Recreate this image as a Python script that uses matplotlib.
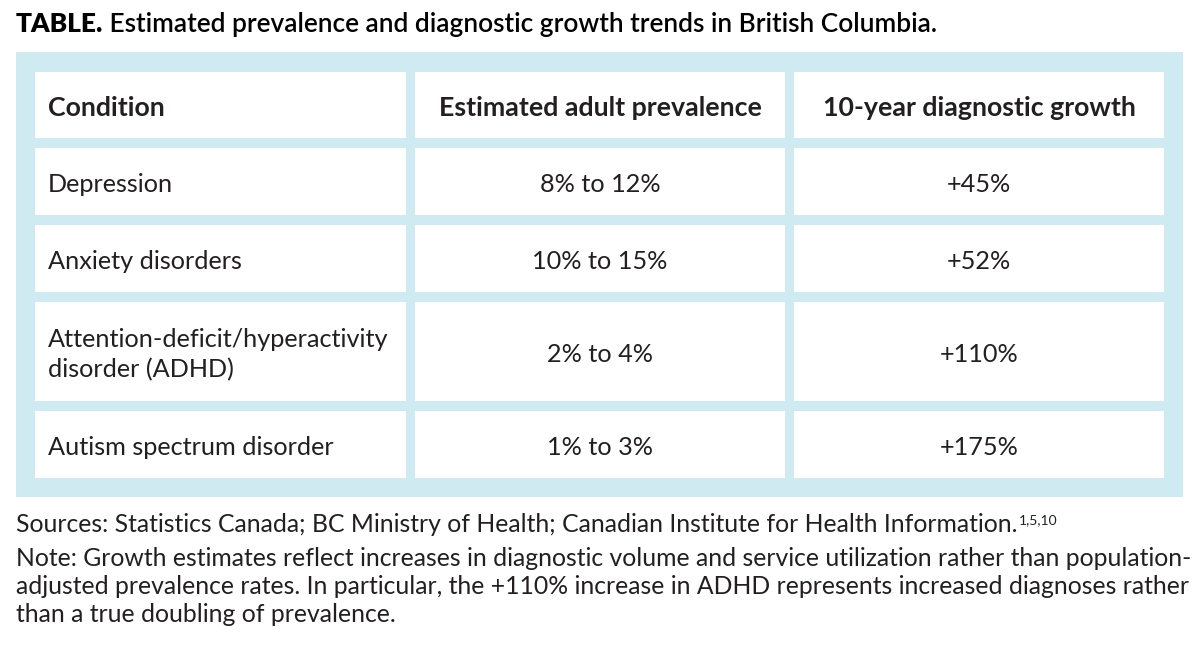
import matplotlib
matplotlib.use("Agg")
import matplotlib.pyplot as plt
from matplotlib.patches import Rectangle

# table content
headers = ["Condition", "Estimated adult prevalence", "10-year diagnostic growth"]
conditions = ["Depression", "Anxiety disorders",
              "Attention-deficit/hyperactivity\ndisorder (ADHD)", "Autism spectrum disorder"]
prevalence = ["8% to 12%", "10% to 15%", "2% to 4%", "1% to 3%"]
growth = ["+45%", "+52%", "+110%", "+175%"]

title_bold = "TABLE."
title_rest = " Estimated prevalence and diagnostic growth trends in British Columbia."
source_text = "Sources: Statistics Canada; BC Ministry of Health; Canadian Institute for Health Information."
source_refs = "1,5,10"
note_lines = [
    "Note: Growth estimates reflect increases in diagnostic volume and service utilization rather than population-",
    "adjusted prevalence rates. In particular, the +110% increase in ADHD represents increased diagnoses rather",
    "than a true doubling of prevalence.",
]

FONT = "Lato"
INK = "#231f20"
BLUE = "#cfeaf1"

fig = plt.figure(figsize=(12, 6.52), dpi=100)
ax = fig.add_axes([0, 0, 1, 1])
ax.set_xlim(0, 1200)
ax.set_ylim(652, 0)
ax.axis("off")

# layout in pixels
col_x = [(35, 406), (415, 785), (794, 1164)]
row_y = [(72, 138), (148, 215), (225, 292), (302, 401), (411, 478)]

ax.add_patch(Rectangle((16, 52), 1167, 445, facecolor=BLUE, edgecolor="none"))
for (y0, y1) in row_y:
    for (x0, x1) in col_x:
        ax.add_patch(Rectangle((x0, y0), x1 - x0, y1 - y0, facecolor="white", edgecolor="none"))

rows = [headers] + [list(r) for r in zip(conditions, prevalence, growth)]
for i, row in enumerate(rows):
    y0, y1 = row_y[i]
    yc = (y0 + y1) / 2 + 3
    w = "bold" if i == 0 else "normal"
    fs = 19.3 if i == 0 else 18.2
    for j, txt in enumerate(row):
        x0, x1 = col_x[j]
        if j == 0:
            ax.text(x0 + 13, yc, txt, ha="left", va="center", fontsize=fs,
                    family=FONT, weight=w, color=INK, linespacing=1.35)
        else:
            ax.text((x0 + x1) / 2, yc, txt, ha="center", va="center", fontsize=fs,
                    family=FONT, weight=w, color=INK)

# title
fig.canvas.draw()
r = fig.canvas.get_renderer()
t1 = ax.text(16, 32, title_bold, ha="left", va="baseline", fontsize=18.9,
             family=FONT, weight="heavy", color="black")
bb = t1.get_window_extent(r)
x_end = ax.transData.inverted().transform((bb.x1, 0))[0]
ax.text(x_end, 32, title_rest, ha="left", va="baseline", fontsize=18.9,
        family=FONT, weight="semibold", color="black")

# footnotes
fs_note = 17.8
t2 = ax.text(16, 532, source_text, ha="left", va="baseline", fontsize=fs_note,
             family=FONT, color=INK)
bb = t2.get_window_extent(r)
x_end = ax.transData.inverted().transform((bb.x1, 0))[0]
ax.text(x_end + 1, 524, source_refs, ha="left", va="baseline", fontsize=10,
        family=FONT, color=INK)
for k, line in enumerate(note_lines):
    ax.text(16, 566 + 28 * k, line, ha="left", va="baseline", fontsize=fs_note,
            family=FONT, color=INK)

fig.savefig("out.png", dpi=100, facecolor="white")
